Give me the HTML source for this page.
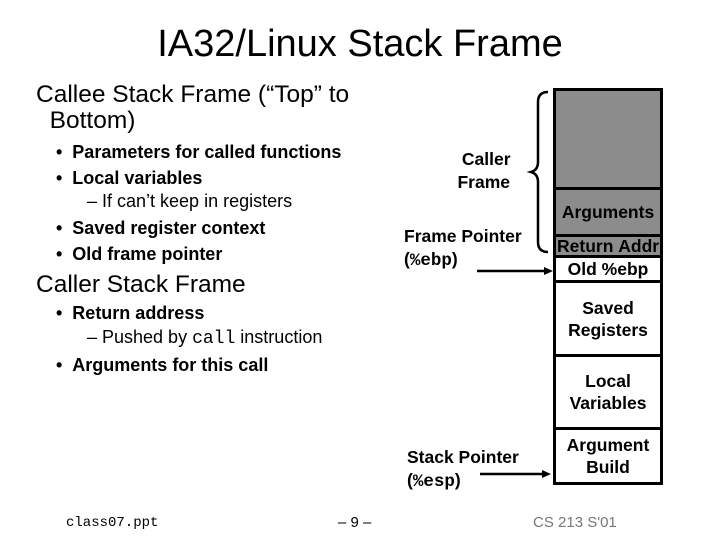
<!DOCTYPE html>
<html><head><style>
body{margin:0;width:720px;height:540px;background:#fff;position:relative;font-family:"Liberation Sans",Arial,sans-serif;overflow:hidden}
.a{position:absolute;white-space:nowrap}
.b{font-weight:bold}
.m{font-family:"Liberation Mono",monospace}
.box{position:absolute;left:553px;width:110px;border:3px solid #000;box-sizing:border-box;display:flex;align-items:center;justify-content:center;text-align:center;font-weight:bold;font-size:17.5px;line-height:22px}
</style></head><body>
<div class="a" style="left:0;width:720px;text-align:center;top:23px;font-size:38px;">IA32/Linux Stack Frame</div>
<div class="a" style="left:36px;top:82px;font-size:24.5px;line-height:26px">Callee Stack Frame (“Top” to<br>&nbsp;&nbsp;Bottom)</div>
<div class="a b" style="left:56px;top:139px;font-size:18px;line-height:26px">• &nbsp;Parameters for called functions<br>• &nbsp;Local variables</div>
<div class="a" style="left:87px;top:191px;font-size:18px;">– If can’t keep in registers</div>
<div class="a b" style="left:56px;top:215px;font-size:18px;line-height:26px">• &nbsp;Saved register context<br>• &nbsp;Old frame pointer</div>
<div class="a" style="left:36px;top:271px;font-size:24.5px;">Caller Stack Frame</div>
<div class="a b" style="left:56px;top:303px;font-size:18px;">• &nbsp;Return address</div>
<div class="a" style="left:87px;top:327px;font-size:18px;">– Pushed by <span class="m">call</span> instruction</div>
<div class="a b" style="left:56px;top:355px;font-size:18px;">• &nbsp;Arguments for this call</div>
<div class="a b" style="left:457px;top:148px;font-size:17.5px;text-align:center;line-height:23px">&nbsp;Caller<br>Frame</div>
<div class="a b" style="left:404px;top:225px;font-size:17.5px;line-height:23px">Frame Pointer<br>(<span class="m">%ebp</span>)</div>
<div class="a b" style="left:407px;top:446px;font-size:17.5px;line-height:23px">Stack Pointer<br>(<span class="m">%esp</span>)</div>
<div class="a m" style="left:66px;top:515px;font-size:14px;">class07.ppt</div>
<div class="a" style="left:338px;top:514px;font-size:15px;">– 9 –</div>
<div class="a" style="left:533px;top:514px;font-size:15px;color:#777">CS 213 S'01</div>
<div class="box" style="top:88px;height:102px;background:#8c8c8c"></div>
<div class="box" style="top:187px;height:50px;background:#8c8c8c">Arguments</div>
<div class="box" style="top:234px;height:24px;background:#8c8c8c;justify-content:flex-start;padding-left:1px;overflow:hidden">Return&nbsp;Addr</div>
<div class="box" style="top:255px;height:28px;background:#fff">Old %ebp</div>
<div class="box" style="top:280px;height:77px;background:#fff">Saved<br>Registers</div>
<div class="box" style="top:354px;height:76px;background:#fff">Local<br>Variables</div>
<div class="box" style="top:427px;height:58px;background:#fff">Argument<br>Build</div>
<svg class="a" style="left:0;top:0" width="720" height="540">
<path d="M548 92 Q538 92 538 102 L538 162 Q538 170 531 172 Q538 174 538 182 L538 242 Q538 252 548 252" fill="none" stroke="#000" stroke-width="2.5"/>
<line x1="477" y1="271" x2="546" y2="271" stroke="#000" stroke-width="2.5"/>
<polygon points="553,271 544,267 544,275" fill="#000"/>
<line x1="480" y1="474" x2="544" y2="474" stroke="#000" stroke-width="2.5"/>
<polygon points="551,474 542,470 542,478" fill="#000"/>
</svg>
</body></html>
